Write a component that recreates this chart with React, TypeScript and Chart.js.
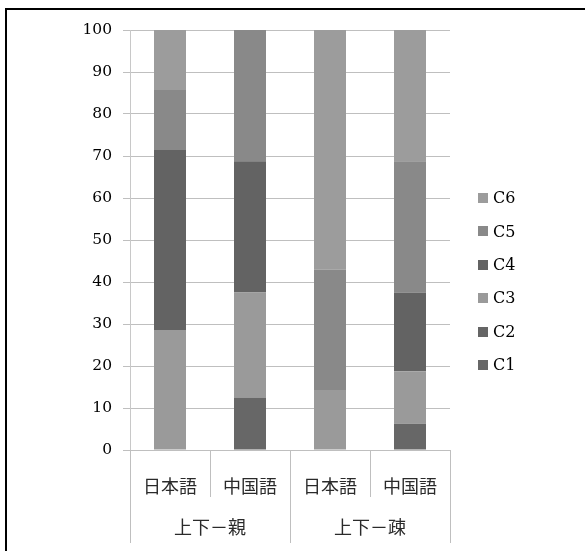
import React, { useEffect, useRef } from "react";
import { Chart, registerables } from "chart.js";

Chart.register(...registerables);

// Category labels (first level) and the groups they belong to (second level)
const languages = ["日本語", "中国語", "日本語", "中国語"];
const groups = ["上下－親", "上下－疎"];
const groupSize = 2;

// Stacked percentages per series
const seriesNames = ["C1", "C2", "C3", "C4", "C5", "C6"];
const c1 = [0, 12.5, 0, 6.25];
const c2 = [0, 0, 0, 0];
const c3 = [28.6, 25, 14.3, 12.5];
const c4 = [42.8, 31.25, 0, 18.75];
const c5 = [14.3, 31.25, 28.6, 31.25];
const c6 = [14.3, 0, 57.1, 31.25];
const seriesValues = [c1, c2, c3, c4, c5, c6];
const seriesColors = ["#676767", "#656565", "#9a9a9a", "#636363", "#898989", "#9c9c9c"];

// Value axis
const yMin = 0;
const yMax = 100;
const yStep = 10;

const numFont = "'DejaVu Serif', serif";
const cjkFont = "'Noto Sans CJK JP', sans-serif";
const gridColor = "#bfbfbf";

const decorPlugin = {
  id: "decor",
  beforeDraw(chart: any) {
    const ctx = chart.ctx;
    ctx.save();
    ctx.fillStyle = "#ffffff";
    ctx.fillRect(0, 0, chart.width, chart.height);
    // outer frame (continues past the right and bottom edges)
    ctx.fillStyle = "#000000";
    ctx.fillRect(5, 8, chart.width, 2);
    ctx.fillRect(5, 8, 2, chart.height);
    ctx.restore();
  },
  afterDraw(chart: any) {
    const ctx = chart.ctx;
    const xs = chart.scales.x;
    const area = chart.chartArea;
    const n = languages.length;
    ctx.save();
    ctx.strokeStyle = gridColor;
    ctx.lineWidth = 1;
    const bounds: number[] = [];
    for (let i = 0; i <= n; i++) {
      let bx: number;
      if (i === 0) bx = area.left;
      else if (i === n) bx = area.right;
      else bx = (xs.getPixelForValue(i - 1) + xs.getPixelForValue(i)) / 2;
      bounds.push(bx);
      const isGroupEdge = i % groupSize === 0;
      const yEnd = isGroupEdge ? area.bottom + 93 : area.bottom + 47;
      const px = Math.round(bx) + 0.5;
      ctx.beginPath();
      ctx.moveTo(px, area.bottom);
      ctx.lineTo(px, yEnd);
      ctx.stroke();
    }
    // group labels
    ctx.fillStyle = "#2a2a2a";
    ctx.font = `18px ${cjkFont}`;
    ctx.textAlign = "center";
    ctx.textBaseline = "middle";
    groups.forEach((g, gi) => {
      const l = bounds[gi * groupSize];
      const r = bounds[(gi + 1) * groupSize];
      ctx.fillText(g, (l + r) / 2, area.bottom + 77);
    });
    // legend, last series on top
    const lx = area.right + 28;
    const rowH = 33.4;
    const count = seriesNames.length;
    const top0 = chart.height / 2 + 6 - ((count - 1) * rowH) / 2;
    ctx.font = `16px ${numFont}`;
    ctx.textAlign = "left";
    for (let k = 0; k < count; k++) {
      const si = count - 1 - k;
      const cy = top0 + k * rowH;
      ctx.fillStyle = seriesColors[si];
      ctx.fillRect(lx, Math.round(cy - 5), 10, 10);
      ctx.fillStyle = "#000000";
      ctx.fillText(seriesNames[si], lx + 15, cy + 1);
    }
    ctx.restore();
  },
};

export default function App() {
  const canvasRef = useRef<HTMLCanvasElement | null>(null);

  useEffect(() => {
    const canvas = canvasRef.current;
    if (!canvas) return;
    const chart = new Chart(canvas, {
      type: "bar",
      data: {
        labels: languages,
        datasets: seriesNames.map((name, i) => ({
          label: name,
          data: seriesValues[i],
          backgroundColor: seriesColors[i],
          borderWidth: 0,
          barPercentage: 0.4,
          categoryPercentage: 1.0,
        })),
      },
      options: {
        animation: false,
        responsive: false,
        devicePixelRatio: 1,
        layout: { padding: { left: 0, right: 135, top: 30, bottom: 0 } },
        plugins: {
          legend: { display: false },
          tooltip: { enabled: false },
          title: { display: false },
        },
        scales: {
          x: {
            stacked: true,
            grid: { display: false },
            border: { display: false },
            ticks: {
              color: "#2a2a2a",
              font: { family: cjkFont, size: 18 },
              padding: 17,
              maxRotation: 0,
            },
            afterFit(scale: any) {
              scale.height = 101;
            },
          },
          y: {
            stacked: true,
            min: yMin,
            max: yMax,
            ticks: {
              stepSize: yStep,
              color: "#000000",
              font: { family: numFont, size: 15.5 },
              padding: 11,
            },
            grid: {
              color: gridColor,
              lineWidth: 1,
              tickLength: 7,
              tickColor: gridColor,
            },
            border: { display: true, color: "#c8c8c8" },
            afterFit(scale: any) {
              scale.width = 130;
            },
          },
        },
      },
      plugins: [decorPlugin],
    });
    return () => chart.destroy();
  }, []);

  return (
    <div style={{ position: "absolute", left: 0, top: 0, width: 585, height: 551 }}>
      <canvas ref={canvasRef} width={585} height={551} style={{ display: "block" }} />
    </div>
  );
}
